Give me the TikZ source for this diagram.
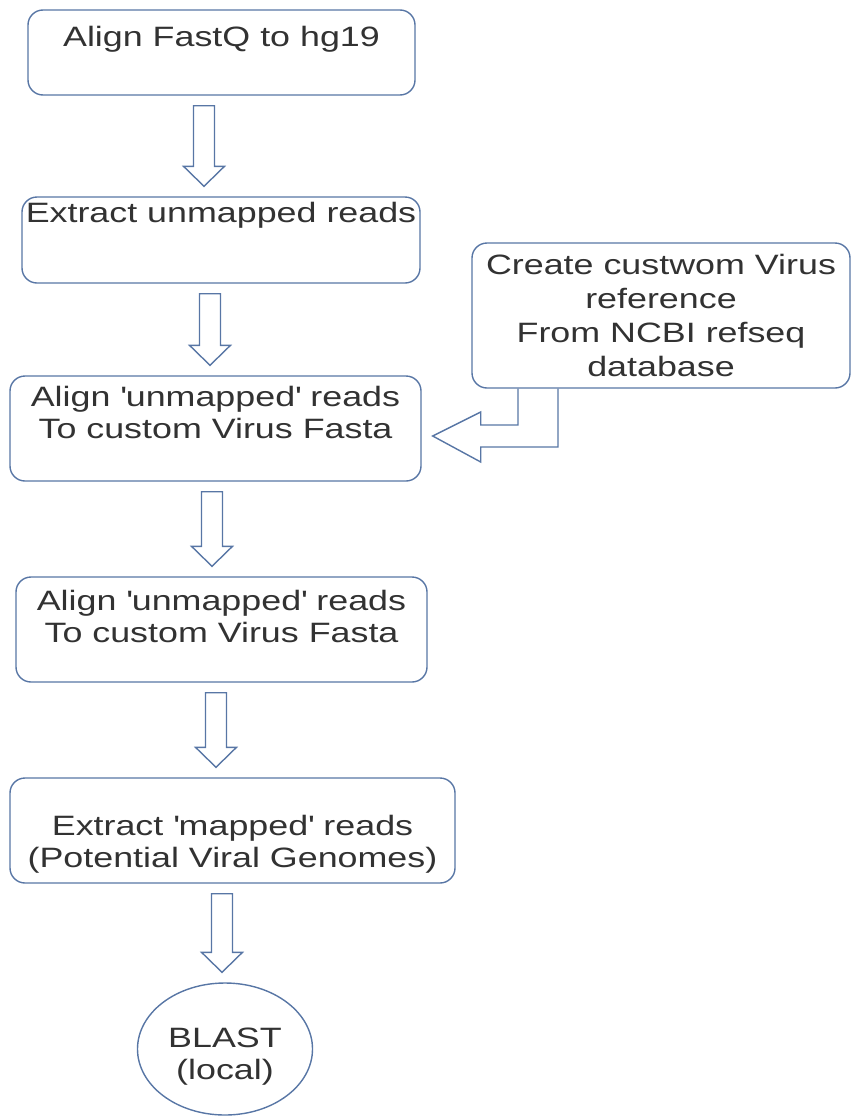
\documentclass[tikz,border=0pt]{standalone}
\usepackage{fontspec}
\setmainfont{Liberation Sans}[FakeStretch=1.28]
\usetikzlibrary{shapes.geometric,calc}
\definecolor{boxline}{RGB}{88,118,165}
\definecolor{boxtext}{RGB}{50,50,50}

% hollow down arrow between two nodes, at image x #3
\newcommand{\blockdown}[3]{%
  \draw[arrowline] let \p1=(#1.south), \p2=(#2.north) in
    (#3pt-10.5pt,\y1-10pt) -- (#3pt+10.5pt,\y1-10pt) -- (#3pt+10.5pt,\y2+30pt)
    -- (#3pt+20.5pt,\y2+30pt) -- (#3pt,\y2+10pt) -- (#3pt-20.5pt,\y2+30pt)
    -- (#3pt-10.5pt,\y2+30pt) -- cycle;}
\newcommand{\sq}{\textquotesingle}

\begin{document}
\begin{tikzpicture}[x=1pt,y=-1pt,
					stepbox/.style={rectangle, rounded corners=15pt, draw=boxline, line width=1.4pt,
						inner sep=0pt, align=center, text=boxtext, font=\fontsize{28}{32}\selectfont},
					endnode/.style={ellipse, draw=boxline, line width=1.4pt, inner sep=0pt,
						align=center, text=boxtext, font=\fontsize{28}{32}\selectfont},
					arrowline/.style={draw=boxline, line width=1.4pt, line join=miter},
					]
					\useasboundingbox (0,0) rectangle (851,1119);
					%Nodes
					\node[stepbox, minimum width=387pt, minimum height=85pt]  (s1)  at (221.5,52.5)  {Align FastQ to hg19\\~};
					\node[stepbox, minimum width=398pt, minimum height=86pt]  (s2)  at (221,240)     {Extract unmapped reads\\[23.5pt]~};
					\node[stepbox, minimum width=411pt, minimum height=105pt] (s3)  at (215.5,428.5) {Align \sq unmapped\sq{} reads\\To custom Virus Fasta\\~};
					\node[stepbox, minimum width=411pt, minimum height=105pt] (s4)  at (221.5,629.5) {Align \sq unmapped\sq{} reads\\To custom Virus Fasta\\[-5pt]~};
					\node[stepbox, minimum width=445pt, minimum height=105pt] (s5)  at (232.5,830.5) {~\\[15pt]Extract \sq mapped\sq{} reads\\(Potential Viral Genomes)};
					\node[stepbox, minimum width=378pt, minimum height=145pt, font=\fontsize{28}{34}\selectfont] (ref) at (661,315.5) {Create custwom Virus\\reference\\From NCBI refseq\\database};
					\node[endnode, minimum width=175pt, minimum height=132pt] (blast) at (225,1049)  {~\\[3pt]BLAST\\(local)};
					
					%Arrows
					\blockdown{s1}{s2}{204}
					\blockdown{s2}{s3}{210}
					\blockdown{s3}{s4}{212}
					\blockdown{s4}{s5}{216}
					\blockdown{s5}{blast}{222}
					\draw[arrowline] let \p1=(ref.south), \p2=([xshift=11pt,yshift=-7.5pt]s3.east) in
						(\x1-143pt,\y1) -- (\x1-143pt,\y2+11pt) -- (\x2+48pt,\y2+11pt) -- (\x2+48pt,\y2+24pt)
						-- (\p2) -- (\x2+48pt,\y2-26pt) -- (\x2+48pt,\y2-11pt) -- (\x1-103pt,\y2-11pt) -- (\x1-103pt,\y1);
				\end{tikzpicture}
\end{document}
